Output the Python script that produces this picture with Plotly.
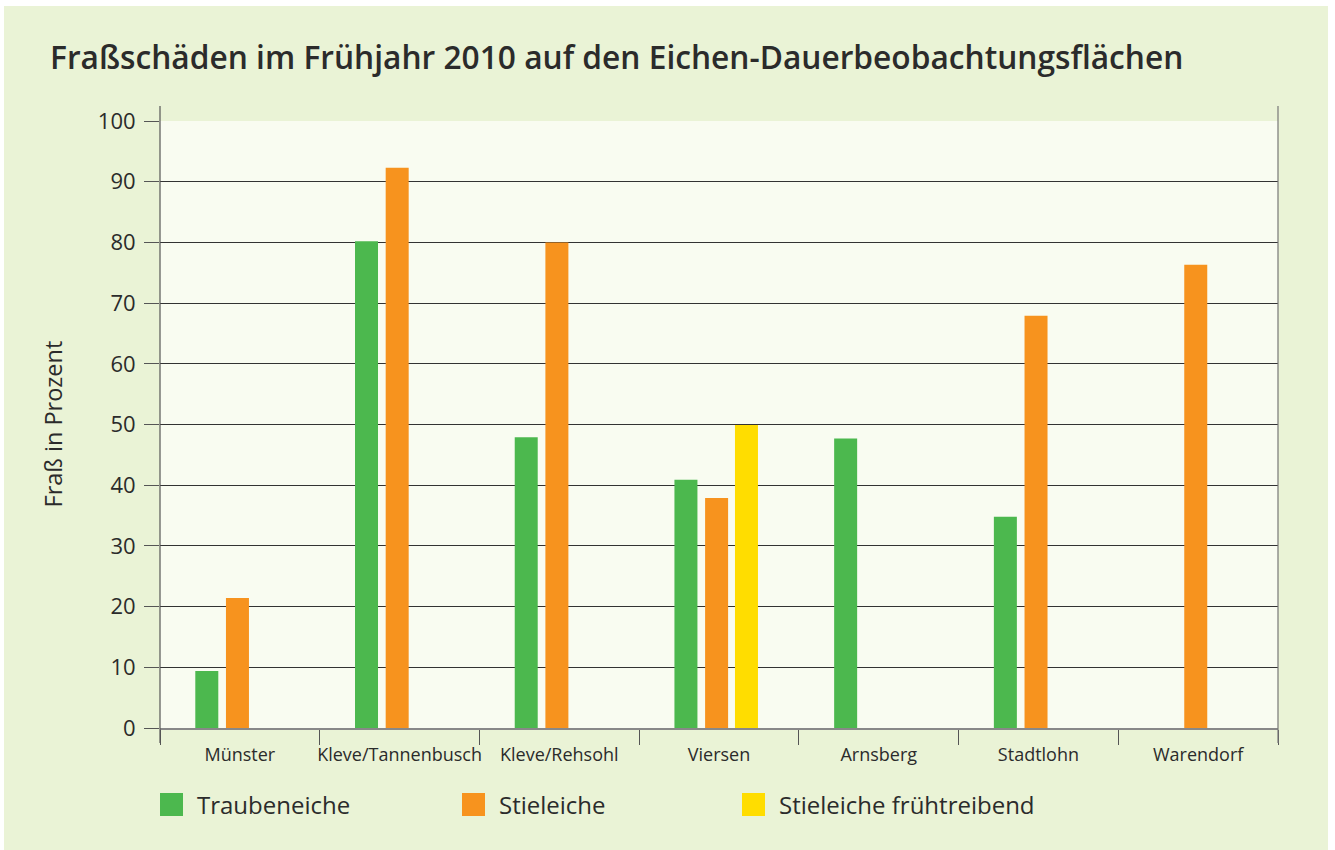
import plotly.graph_objects as go

categories = ["Münster", "Kleve/Tannenbusch", "Kleve/Rehsohl", "Viersen", "Arnsberg", "Stadtlohn", "Warendorf"]
traubeneiche = [9.4, 80.2, 47.9, 40.9, 47.7, 34.8, None]
stieleiche = [21.4, 92.3, 80.0, 37.9, None, 67.9, 76.3]
stieleiche_frueh = [None, None, None, 49.9, None, None, None]
series_names = ["Traubeneiche", "Stieleiche", "Stieleiche frühtreibend"]
series_colors = ["#4CB84E", "#F7931E", "#FFDD00"]
y_ticks = list(range(0, 101, 10))

# bar placement styling (fraction of a category slot)
bar_width = 0.144
bar_offsets = [-0.279, -0.087, 0.100]

TEXT = "#2b2b2b"
FONT = "Open Sans"

fig = go.Figure()
for name, vals, col, off in zip(series_names, [traubeneiche, stieleiche, stieleiche_frueh],
                                series_colors, bar_offsets):
    fig.add_trace(go.Bar(x=categories, y=vals, name=name, width=bar_width, offset=off,
                         marker=dict(color=col, line=dict(width=0)), showlegend=False))

W, H = 1335, 850
L, R, T, B = 160, 57, 121, 122
pw, ph = W - L - R, H - T - B

def px(xp):
    return (xp - L) / pw

def py(yp):
    return (H - B - yp) / ph

shapes = [
    dict(type="rect", xref="paper", yref="paper", x0=px(4), x1=px(1328), y0=py(900), y1=py(6),
         fillcolor="#EAF3D6", line=dict(width=0), layer="below"),
    dict(type="rect", xref="paper", yref="paper", x0=0, x1=1, y0=0, y1=1,
         fillcolor="#F9FCF1", line=dict(width=0), layer="below"),
    dict(type="line", xref="paper", yref="paper", x0=0, x1=0, y0=py(743), y1=py(106),
         line=dict(color="#555555", width=1.2)),
    dict(type="line", xref="paper", yref="paper", x0=1, x1=1, y0=py(743), y1=py(106),
         line=dict(color="#777777", width=1.2)),
]

annotations = [
    dict(text="Fraß in Prozent", xref="paper", yref="paper", x=px(52), y=0.5, textangle=-90,
         showarrow=False, font=dict(family=FONT, size=23.5, color=TEXT), xanchor="center", yanchor="middle"),
]

legend_x = [160, 462, 742]
for lx, name, col in zip(legend_x, series_names, series_colors):
    shapes.append(dict(type="rect", xref="paper", yref="paper", x0=px(lx), x1=px(lx + 23),
                       y0=py(816), y1=py(793), fillcolor=col, line=dict(width=0)))
    annotations.append(dict(text=name, xref="paper", yref="paper", x=px(lx + 35), y=py(804.5),
                            xanchor="left", yanchor="middle", showarrow=False,
                            font=dict(family=FONT, size=24, color=TEXT)))

fig.update_layout(
    width=W, height=H,
    margin=dict(l=L, r=R, t=T, b=B, pad=0),
    paper_bgcolor="white",
    plot_bgcolor="#F9FCF1",
    barmode="overlay",
    title=dict(text="Fraßschäden im Frühjahr 2010 auf den Eichen-Dauerbeobachtungsflächen",
               x=50 / W, xref="container", xanchor="left",
               y=1 - 58 / H, yref="container", yanchor="middle",
               font=dict(family=FONT, size=31.7, color=TEXT, weight=600)),
    font=dict(family=FONT, color=TEXT),
    shapes=shapes,
    annotations=annotations,
    showlegend=False,
)

fig.update_xaxes(
    type="category", tickson="boundaries", ticks="outside", ticklen=15, tickcolor="#555555",
    tickwidth=1.2, showline=True, linecolor="#888888", linewidth=2, showgrid=False,
    tickfont=dict(family=FONT, size=18, color=TEXT), range=[-0.5, 6.5], tickangle=0,
    ticklabelstandoff=9,
)
fig.update_yaxes(
    range=[0, 100], tickvals=y_ticks, ticks="outside", ticklen=15, tickcolor="#555555", tickwidth=1.2,
    showgrid=True, gridcolor="#333333", gridwidth=1, zeroline=False, showline=False,
    tickfont=dict(family=FONT, size=22, color=TEXT), ticklabelstandoff=4,
)

fig.write_html("out.html", config={"displayModeBar": False},
               post_script="document.body.style.margin='0';document.body.style.padding='0';")
